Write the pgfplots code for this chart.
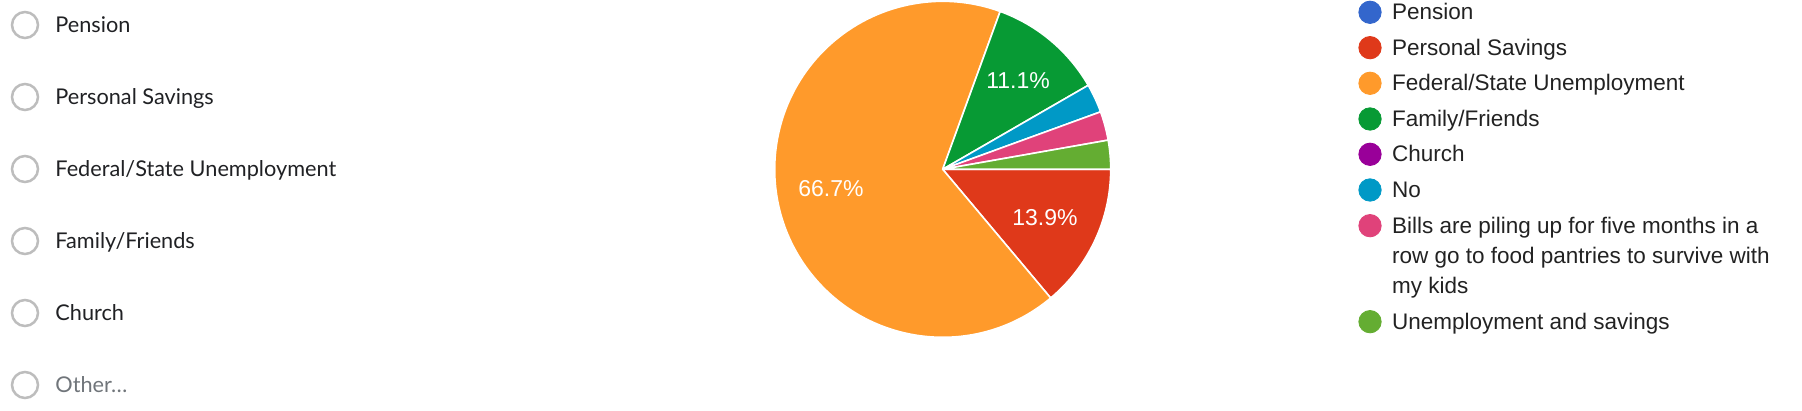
\documentclass[border=0pt]{standalone}
\usepackage{pgfplots}
\pgfplotsset{compat=1.18}
\usepackage{fontspec}
\setmainfont{Liberation Sans}
\newfontfamily\formfont{Lato}
\definecolor{pcBlue}{HTML}{3366CC}
\definecolor{pcRed}{HTML}{DF391A}
\definecolor{pcOrange}{HTML}{FF9A2B}
\definecolor{pcGreen}{HTML}{079A34}
\definecolor{pcPurple}{HTML}{990099}
\definecolor{pcTeal}{HTML}{0099C6}
\definecolor{pcPink}{HTML}{E0427A}
\definecolor{pcLime}{HTML}{64AD32}
\definecolor{radioGray}{HTML}{BDBDBD}
\definecolor{formText}{HTML}{202124}
\definecolor{otherText}{HTML}{70757A}
\definecolor{legText}{HTML}{222222}
% counts of answers (36 in all), in pie order, clockwise from 3 o'clock
\def\pieslices{5/pcRed, 24/pcOrange, 4/pcGreen, 1/pcTeal, 1/pcPink, 1/pcLime}
\def\pietotal{36}
\begin{document}
\begin{tikzpicture}
\begin{axis}[
  at={(0,0)}, anchor=south west,
  width=901pt, height=205.5pt, scale only axis,
  xmin=0, xmax=1802, ymin=0, ymax=411,
  hide axis, clip=false,
]
% pie
\gdef\angA{0}
\foreach \v/\c in \pieslices {
  \pgfmathsetmacro{\angB}{\angA - \v*360/\pietotal}
  \edef\doslice{\noexpand\fill[\c, draw=white, line width=0.8pt, line join=round]
    (axis cs:942.7,241.7) -- ++(\angA:84pt) arc[start angle=\angA, end angle=\angB, radius=84pt] -- cycle;}
  \doslice
  \xdef\angA{\angB}
}
\node[text=white, font=\fontsize{11.5pt}{13pt}\selectfont] at (axis cs:831,222) {66.7\%};
\node[text=white, font=\fontsize{11.5pt}{13pt}\selectfont] at (axis cs:1018,330) {11.1\%};
\node[text=white, font=\fontsize{11.5pt}{13pt}\selectfont] at (axis cs:1045,193) {13.9\%};
% radio buttons
\addplot[only marks, mark=o, mark size=6.5pt, mark options={draw=radioGray, line width=1.25pt}]
  coordinates {(25,386) (25,314) (25,242) (25,170) (25,98) (25,26)};
\begin{scope}[every node/.style={anchor=base west, inner sep=0pt, text=formText, font=\formfont\fontsize{10.85pt}{13pt}\selectfont}]
\node at (axis cs:55,378.7) {Pension};
\node at (axis cs:55,306.7) {Personal Savings};
\node at (axis cs:55,234.7) {Federal/State Unemployment};
\node at (axis cs:55,162.7) {Family/Friends};
\node at (axis cs:55,90.7) {Church};
\node[text=otherText] at (axis cs:55,18.7) {Other…};
\end{scope}
% legend
\addplot[only marks, mark=*, mark size=5.6pt, pcBlue] coordinates {(1370,398.7)};
\addplot[only marks, mark=*, mark size=5.6pt, pcRed] coordinates {(1370,363.3)};
\addplot[only marks, mark=*, mark size=5.6pt, pcOrange] coordinates {(1370,327.7)};
\addplot[only marks, mark=*, mark size=5.6pt, pcGreen] coordinates {(1370,292)};
\addplot[only marks, mark=*, mark size=5.6pt, pcPurple] coordinates {(1370,256.7)};
\addplot[only marks, mark=*, mark size=5.6pt, pcTeal] coordinates {(1370,221)};
\addplot[only marks, mark=*, mark size=5.6pt, pcPink] coordinates {(1370,185.3)};
\addplot[only marks, mark=*, mark size=5.6pt, pcLime] coordinates {(1370,89.3)};
\begin{scope}[every node/.style={anchor=base west, inner sep=0pt, text=legText, font=\fontsize{11.25pt}{13pt}\selectfont}]
\node at (axis cs:1391.7,391) {Pension};
\node at (axis cs:1391.7,355.6) {Personal Savings};
\node at (axis cs:1391.7,320) {Federal/State Unemployment};
\node at (axis cs:1391.7,284.3) {Family/Friends};
\node at (axis cs:1391.7,249) {Church};
\node at (axis cs:1391.7,213.3) {No};
\node at (axis cs:1391.7,177.6) {Bills are piling up for five months in a};
\node at (axis cs:1391.7,147.6) {row go to food pantries to survive with};
\node at (axis cs:1391.7,117.6) {my kids};
\node at (axis cs:1391.7,81.6) {Unemployment and savings};
\end{scope}
\end{axis}
\pgfresetboundingbox
\path (0,0) rectangle (901pt,205.5pt);
\end{tikzpicture}
\end{document}
